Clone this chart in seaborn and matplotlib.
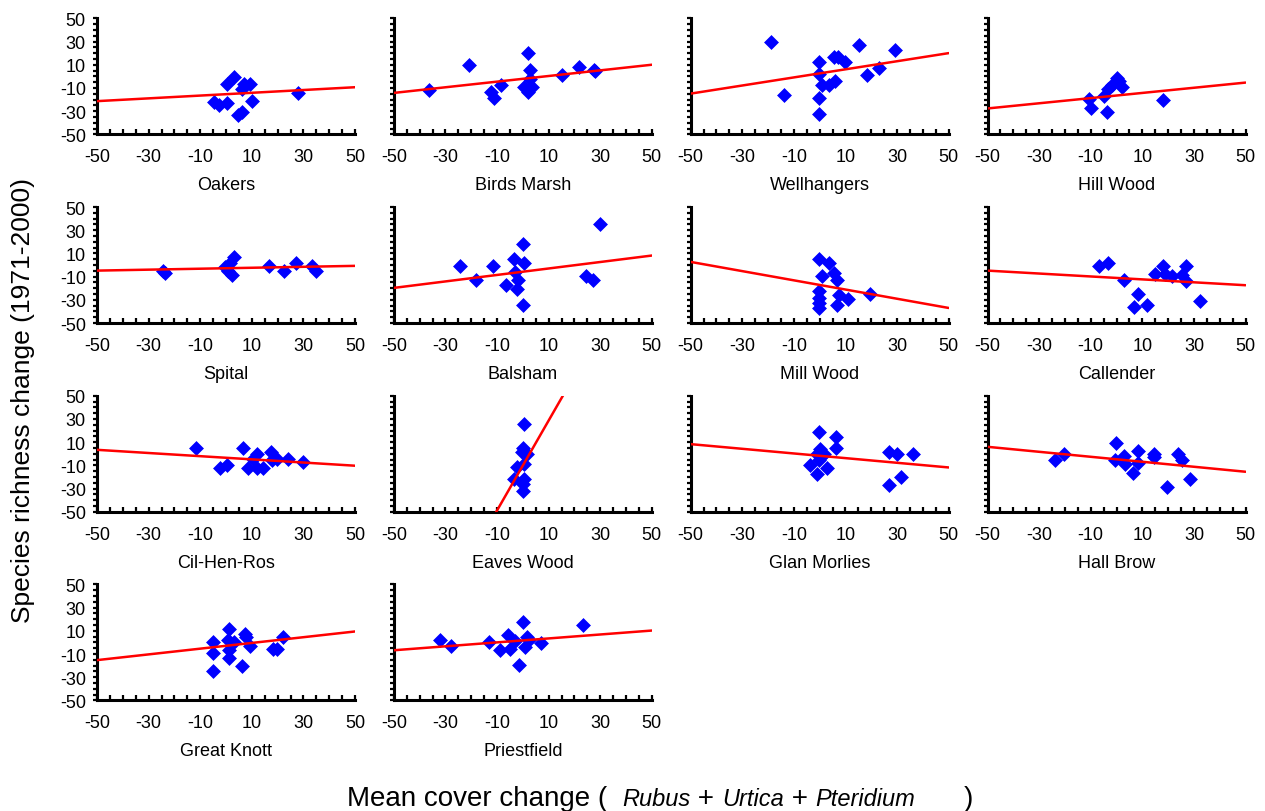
import matplotlib
matplotlib.use('Agg')
import matplotlib.pyplot as plt
import seaborn as sns
import numpy as np
from matplotlib.ticker import FixedLocator, MultipleLocator

# ── Data ───────────────────────────────────────────────────────────────────────

sites = ["Oakers", "Birds Marsh", "Wellhangers", "Hill Wood",
         "Spital", "Balsham", "Mill Wood", "Callender",
         "Cil-Hen-Ros", "Eaves Wood", "Glan Morlies", "Hall Brow",
         "Great Knott", "Priestfield"]

oakers_x = [3.2, 0.3, 6.8, 9.1, 6.0, -4.8, -2.9, 0.3, 10.0, 6.1, 4.8, 28.0]
oakers_y = [-0.6, -7.0, -6.3, -7.0, -10.6, -22.0, -24.9, -22.6, -21.4, -30.6, -33.0, -14.0]

birds_x = [-36.2, -20.7, -12.2, -11.0, -8.5, 1.9, 2.6, 2.6, 0.3, 1.9, 3.5, 15.2, 21.6, 27.4, 28.0]
birds_y = [-11.4, 10.0, -13.4, -19.1, -7.1, 20.0, 5.7, -2.6, -9.1, -13.4, -9.1, 0.9, 8.0, 5.1, 5.0]

well_x = [-19.0, -13.9, -0.1, -0.1, 1.0, -0.1, -0.1, 3.5, 5.9, 5.5, 7.2, 10.0, 15.2, 18.4, 22.9, 29.1]
well_y = [29.4, -16.3, 12.3, 2.3, -7.1, -18.6, -32.9, -7.1, -4.3, 16.6, 16.6, 12.3, 27.1, 0.9, 7.1, 22.3]

hill_x = [-10.8, -9.7, -3.5, -4.8, -3.2, -1.7, 0.0, 0.9, 2.2, 18.2]
hill_y = [-19.7, -27.7, -30.6, -16.9, -10.6, -7.1, -1.4, -4.3, -9.1, -20.6]

spital_x = [-23.5, -24.5, -0.3, 0.6, 2.3, 3.2, 1.6, 16.5, 22.6, 27.0, 33.2, 34.9]
spital_y = [-6.8, -4.8, -1.9, -5.3, -8.2, 6.8, 1.9, -0.4, -4.8, 1.9, -1.0, -5.3]

balsham_x = [-24.5, -18.1, -11.5, -6.4, -3.5, -2.9, -2.0, -2.3, 0.1, 0.3, 0.1, 24.6, 27.0, 30.0]
balsham_y = [-0.4, -12.5, -0.4, -17.4, 4.8, -5.9, -12.5, -20.3, 18.3, 1.9, -34.1, -9.7, -12.5, 35.6]

mill_x = [-0.1, 3.5, 1.0, 5.5, 6.8, -0.3, -0.3, -0.3, -0.1, 7.4, 6.8, 11.0, 19.4]
mill_y = [4.8, 1.9, -9.7, -6.8, -12.5, -22.6, -28.4, -32.7, -37.0, -25.5, -34.1, -29.0, -24.9]

call_x = [-6.9, -3.2, 3.0, 8.4, 6.8, 11.7, 14.9, 18.2, 18.8, 21.4, 25.3, 26.9, 26.9, 32.5]
call_y = [-0.4, 1.9, -12.5, -24.9, -36.5, -34.1, -7.6, -0.4, -7.6, -9.7, -8.2, -0.4, -13.4, -31.3]

cil_x = [-11.7, -2.3, 0.3, 6.4, 8.5, 10.6, 11.9, 11.9, 14.5, 17.4, 17.7, 19.7, 23.9, 30.0]
cil_y = [4.6, -12.6, -9.8, 4.6, -12.6, -4.5, -0.3, -12.4, -12.0, 1.1, -5.2, -4.6, -4.6, -7.5]

eaves_x = [0.3, 0.1, -0.3, 1.6, 0.3, -2.3, -3.5, 0.3, 0.1, 0.1]
eaves_y = [25.6, 4.6, 1.1, -0.3, -8.9, -11.8, -21.8, -21.8, -26.1, -31.9]

glan_x = [-0.1, 6.5, 6.5, 0.2, -1.2, 1.6, -0.1, -3.7, 3.0, -1.2, 26.7, 29.8, 36.1, 31.7, 26.7]
glan_y = [19.0, 14.1, 4.6, 4.0, -0.3, -0.3, -5.5, -9.8, -12.6, -17.5, 1.7, -0.3, -0.3, -19.8, -27.0]

hall_x = [-23.9, -20.4, -0.2, -0.6, 3.0, 3.3, 6.4, 8.2, 8.2, 14.4, 14.7, 23.8, 25.3, 28.4, 19.6]
hall_y = [-5.5, -0.3, 8.9, -5.5, -1.7, -8.9, -17.0, 2.6, -8.3, -0.3, -2.6, -0.3, -5.5, -21.8, -29.0]

knott_x = [-5.2, -5.2, -5.2, 1.0, 0.6, 3.1, 1.0, 1.0, 6.1, 7.2, 7.9, 9.3, 18.3, 19.7, 22.1]
knott_y = [0.4, -8.9, -24.5, 11.8, 1.8, 0.4, -6.1, -13.1, -20.2, 7.5, 4.7, -3.0, -5.2, -5.2, 4.7]

priest_x = [-32.1, -28.0, -13.0, -8.8, -5.8, -4.8, -3.1, -1.4, 0.0, 1.0, 1.7, 2.4, 6.9, 23.4]
priest_y = [2.4, -3.3, 0.4, -6.7, 6.7, -5.2, 1.0, -19.5, 17.4, -3.9, 4.7, 1.9, -0.1, 15.4]

site_x = [oakers_x, birds_x, well_x, hill_x, spital_x, balsham_x, mill_x,
          call_x, cil_x, eaves_x, glan_x, hall_x, knott_x, priest_x]
site_y = [oakers_y, birds_y, well_y, hill_y, spital_y, balsham_y, mill_y,
          call_y, cil_y, eaves_y, glan_y, hall_y, knott_y, priest_y]

# fitted regression lines as drawn (slope, intercept)
fit_slope = [0.12, 0.243, 0.349, 0.223, 0.041, 0.279, -0.397,
             -0.126, -0.137, 3.876, -0.201, -0.215, 0.247, 0.17]
fit_intercept = [-15.4, -2.15, 2.55, -16.55, -2.75, -5.75, -17.15,
                 -11.1, -3.45, -10.08, -1.75, -4.75, -2.85, 1.8]

ticks = [-50, -30, -10, 10, 30, 50]

# ── Style ──────────────────────────────────────────────────────────────────────

sns.set_style("ticks")
plt.rcParams['font.family'] = ['Liberation Sans', 'DejaVu Sans']
plt.rcParams['axes.unicode_minus'] = False
for key in ['text.color', 'axes.labelcolor', 'xtick.color', 'ytick.color']:
    plt.rcParams[key] = 'black'

fig, axes = plt.subplots(4, 4, figsize=(12.65, 8.12), dpi=100)
fig.subplots_adjust(left=0.0767, right=0.9846, top=0.9762, bottom=0.1361,
                    wspace=0.1504, hspace=0.627)
axes = axes.ravel()

line_x = np.array([-50, 50])

for i, ax in enumerate(axes):
    if i >= len(sites):
        ax.remove()
        continue
    sns.scatterplot(x=site_x[i], y=site_y[i], ax=ax, marker='D', s=50,
                    color='#0000ff', edgecolor='#0000ff', linewidth=0.5, zorder=3)
    sns.lineplot(x=line_x, y=fit_intercept[i] + fit_slope[i] * line_x, ax=ax,
                 color='#ff0000', linewidth=1.8, zorder=4)
    ax.set_xlim(-50, 50)
    ax.set_ylim(-50, 50)
    ax.xaxis.set_major_locator(FixedLocator(ticks))
    ax.yaxis.set_major_locator(FixedLocator(ticks))
    ax.xaxis.set_minor_locator(MultipleLocator(5))
    ax.yaxis.set_minor_locator(MultipleLocator(5))
    ax.tick_params(axis='x', which='both', direction='in', length=3.5, width=1.6,
                   labelsize=13, pad=10)
    ax.tick_params(axis='y', which='both', direction='out', length=3, width=1.6,
                   labelsize=13, pad=5)
    for side in ['top', 'right']:
        ax.spines[side].set_visible(False)
    for side in ['left', 'bottom']:
        ax.spines[side].set_linewidth(2.2)
        ax.spines[side].set_color('black')
    ax.set_xlabel(sites[i], fontsize=13, labelpad=8)
    ax.set_ylabel("")
    if i % 4 != 0:
        ax.set_yticklabels([])

fig.text(0.018, 0.507, "Species richness change (1971-2000)", rotation=90,
         ha='center', va='center', fontsize=19)

# x label: mixed upright / italic pieces, laid out one after another
W, H = fig.get_size_inches() * fig.dpi
renderer = fig.canvas.get_renderer()
pieces = [("Mean cover change (", 'normal', 20, 15),
          ("Rubus", 'italic', 17, 0),
          (" + ", 'normal', 20, 0),
          ("Urtica", 'italic', 17, 0),
          (" + ", 'normal', 20, 0),
          ("Pteridium", 'italic', 17, 48),
          (")", 'normal', 20, 0)]
x_px = 347
for txt, style, size, gap in pieces:
    t = fig.text(x_px / W, 6 / H, txt, fontsize=size, style=style,
                 ha='left', va='baseline')
    bb = t.get_window_extent(renderer)
    x_px = bb.x1 + gap

plt.savefig("out.png", dpi=100)
plt.close()
